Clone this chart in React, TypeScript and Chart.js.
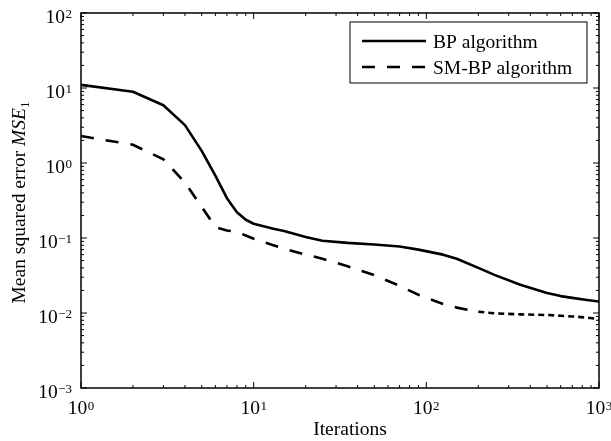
import React, { useEffect, useRef } from "react";
import { Chart, registerables } from "chart.js";

Chart.register(...registerables);

const iterations = [1, 2, 3, 4, 5, 6, 7, 8, 9, 10, 13, 15, 20, 25, 35, 50, 70, 90, 125, 150, 200, 250, 350, 500, 600, 700, 850, 1000];
const bpMSE = [11.0, 8.9, 5.9, 3.2, 1.45, 0.68, 0.34, 0.22, 0.175, 0.155, 0.133, 0.124, 0.103, 0.092, 0.086, 0.082, 0.077, 0.07, 0.06, 0.053, 0.04, 0.032, 0.0238, 0.0185, 0.0168, 0.0159, 0.0149, 0.0142];
const smbpMSE = [2.29, 1.75, 1.12, 0.55, 0.26, 0.14, 0.126, 0.12, 0.108, 0.098, 0.08, 0.072, 0.06, 0.053, 0.042, 0.032, 0.023, 0.0175, 0.0132, 0.0118, 0.0104, 0.0099, 0.0096, 0.0094, 0.0092, 0.009, 0.0087, 0.0083];
const seriesLabels = ["BP algorithm", "SM-BP algorithm"];
const xDecades = [1, 10, 100, 1000];
const yDecades = [0.001, 0.01, 0.1, 1, 10, 100];
const xTitle = "Iterations";
const yTitleParts = ["Mean squared error ", "MSE", "1"];

const FONT = '"Liberation Serif", "Times New Roman", serif';

function expString(v: number): string {
  const e = Math.round(Math.log10(v));
  return e < 0 ? "\u2212" + String(-e) : String(e);
}

const framePlugin = {
  id: "matlabFrame",
  afterDraw(chart: any) {
    const { ctx, chartArea: a, scales } = chart;
    const xs = scales.x;
    const ys = scales.y;
    ctx.save();
    ctx.strokeStyle = "#000";
    ctx.fillStyle = "#000";

    // tick marks (inward, on all four sides)
    ctx.lineWidth = 1;
    ctx.beginPath();
    for (const d of xDecades) {
      for (let m = 1; m <= 9; m++) {
        const v = d * m;
        if (v > xs.max * 1.0001) break;
        const px = xs.getPixelForValue(v);
        const len = m === 1 ? 6 : 3;
        ctx.moveTo(px, a.bottom);
        ctx.lineTo(px, a.bottom - len);
        ctx.moveTo(px, a.top);
        ctx.lineTo(px, a.top + len);
      }
    }
    for (const d of yDecades) {
      for (let m = 1; m <= 9; m++) {
        const v = d * m;
        if (v > ys.max * 1.0001) break;
        const py = ys.getPixelForValue(v);
        const len = m === 1 ? 6 : 3;
        ctx.moveTo(a.left, py);
        ctx.lineTo(a.left + len, py);
        ctx.moveTo(a.right, py);
        ctx.lineTo(a.right - len, py);
      }
    }
    ctx.stroke();

    // box
    ctx.lineWidth = 1.5;
    ctx.strokeRect(a.left, a.top, a.right - a.left, a.bottom - a.top);

    // y tick labels
    ctx.textBaseline = "alphabetic";
    for (const v of yDecades) {
      const py = ys.getPixelForValue(v);
      const es = expString(v);
      ctx.font = `13px ${FONT}`;
      const ew = ctx.measureText(es).width;
      ctx.textAlign = "right";
      ctx.fillText(es, a.left - 9, py + 4.5);
      ctx.font = `19.5px ${FONT}`;
      ctx.fillText("10", a.left - 9 - ew - 0.5, py + 9.5);
    }

    // x tick labels
    for (const v of xDecades) {
      const px = xs.getPixelForValue(v);
      const es = expString(v);
      ctx.font = `19.5px ${FONT}`;
      const w10 = ctx.measureText("10").width;
      ctx.font = `13px ${FONT}`;
      const ew = ctx.measureText(es).width;
      const start = px - (w10 + ew + 0.5) / 2;
      ctx.textAlign = "left";
      ctx.font = `19.5px ${FONT}`;
      ctx.fillText("10", start, a.bottom + 26);
      ctx.font = `13px ${FONT}`;
      ctx.fillText(es, start + w10 + 0.5, a.bottom + 21.5);
    }

    // x title
    ctx.font = `19.5px ${FONT}`;
    ctx.textAlign = "center";
    ctx.fillText(xTitle, (a.left + a.right) / 2 + 10, a.bottom + 47);

    // y title (rotated, mixed styles)
    ctx.save();
    ctx.translate(25, (a.top + a.bottom) / 2 + 2);
    ctx.rotate(-Math.PI / 2);
    ctx.textAlign = "left";
    ctx.font = `19.5px ${FONT}`;
    const w1 = ctx.measureText(yTitleParts[0]).width;
    ctx.font = `italic 19.5px ${FONT}`;
    const w2 = ctx.measureText(yTitleParts[1]).width;
    ctx.font = `13px ${FONT}`;
    const w3 = ctx.measureText(yTitleParts[2]).width;
    let x0 = -(w1 + w2 + w3) / 2;
    ctx.font = `19.5px ${FONT}`;
    ctx.fillText(yTitleParts[0], x0, 0);
    x0 += w1;
    ctx.font = `italic 19.5px ${FONT}`;
    ctx.fillText(yTitleParts[1], x0, 0);
    x0 += w2;
    ctx.font = `13px ${FONT}`;
    ctx.fillText(yTitleParts[2], x0, 4);
    ctx.restore();

    // legend
    const lw = 237;
    const lh = 61;
    const lx = a.right - 12 - lw;
    const ly = a.top + 9;
    ctx.fillStyle = "#fff";
    ctx.fillRect(lx, ly, lw, lh);
    ctx.lineWidth = 1;
    ctx.strokeStyle = "#000";
    ctx.strokeRect(lx, ly, lw, lh);
    const ds = chart.data.datasets;
    for (let i = 0; i < ds.length; i++) {
      const rowY = ly + 19 + i * 26;
      ctx.beginPath();
      ctx.lineWidth = ds[i].borderWidth;
      ctx.setLineDash(ds[i].borderDash || []);
      ctx.moveTo(lx + 12, rowY);
      ctx.lineTo(lx + 76, rowY);
      ctx.stroke();
      ctx.setLineDash([]);
      ctx.fillStyle = "#000";
      ctx.font = `19.5px ${FONT}`;
      ctx.textAlign = "left";
      ctx.fillText(ds[i].label, lx + 83, rowY + 7);
    }
    ctx.restore();
  },
};

export default function App() {
  const canvasRef = useRef<HTMLCanvasElement | null>(null);

  useEffect(() => {
    if (!canvasRef.current) return;
    const chart = new Chart(canvasRef.current, {
      type: "line",
      data: {
        datasets: [
          {
            label: seriesLabels[0],
            data: iterations.map((x, i) => ({ x, y: bpMSE[i] })),
            borderColor: "#000",
            borderWidth: 2.6,
            pointRadius: 0,
            tension: 0,
            borderJoinStyle: "round",
            fill: false,
          },
          {
            label: seriesLabels[1],
            data: iterations.map((x, i) => ({ x, y: smbpMSE[i] })),
            borderColor: "#000",
            borderWidth: 2.6,
            borderDash: [13, 12],
            pointRadius: 0,
            tension: 0,
            fill: false,
            segment: {
              borderDash: (c: any) => (c.p0.parsed.x >= 200 ? [6, 4] : [13, 12]),
            },
          },
        ],
      },
      options: {
        animation: false,
        responsive: true,
        maintainAspectRatio: false,
        layout: { padding: { top: 13, right: 12, left: 0, bottom: 0 } },
        plugins: { legend: { display: false }, tooltip: { enabled: false } },
        scales: {
          x: {
            type: "logarithmic",
            min: 1,
            max: 1000,
            ticks: { display: false },
            grid: { display: false, drawTicks: false },
            border: { display: false },
            afterFit: (s: any) => {
              s.height = 53;
            },
          },
          y: {
            type: "logarithmic",
            min: 0.001,
            max: 100,
            ticks: { display: false },
            grid: { display: false, drawTicks: false },
            border: { display: false },
            afterFit: (s: any) => {
              s.width = 81;
            },
          },
        },
      } as any,
      plugins: [framePlugin],
    });
    return () => chart.destroy();
  }, []);

  return (
    <div style={{ position: "absolute", left: 0, top: 0, width: 611, height: 441, background: "#fff" }}>
      <canvas ref={canvasRef} />
    </div>
  );
}
